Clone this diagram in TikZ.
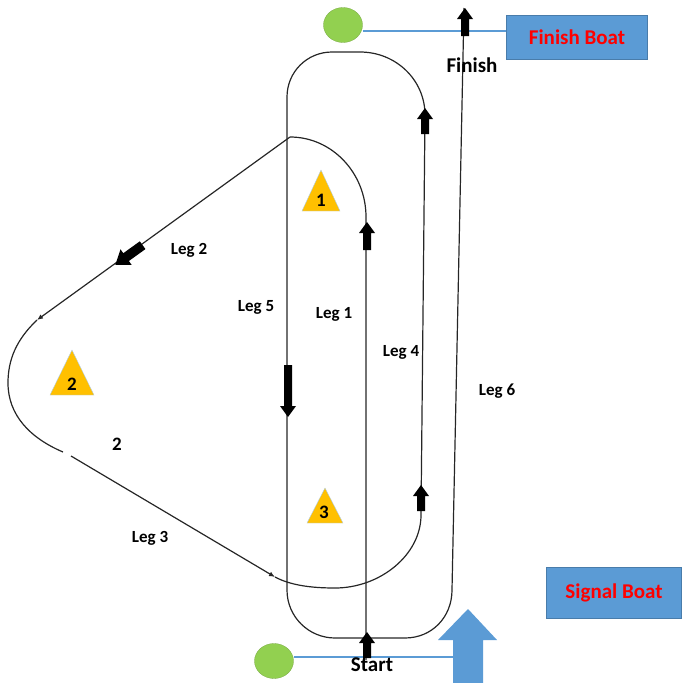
\documentclass[tikz,border=0pt]{standalone}
\usepackage{fontspec}
\setmainfont{Carlito}
\usetikzlibrary{arrows.meta,shapes.geometric}

\definecolor{buoygreen}{HTML}{92D050}
\definecolor{boatblue}{HTML}{5B9BD5}
\definecolor{markorange}{HTML}{FFC000}
\definecolor{boatred}{HTML}{FF0000}

\tikzset{
  course/.style={draw=black!85, line width=1.2pt},
  pinline/.style={draw=boatblue, line width=1.2pt},
  pinbuoy/.style={ellipse, fill=buoygreen, draw=buoygreen!80!black, line width=0.3pt, inner sep=0pt, minimum width=39pt, minimum height=35pt},
  markbuoy/.style={fill=markorange, draw=boatblue!50, line width=0.4pt},
  marknum/.style={font=\fontsize{19}{20}\selectfont\bfseries},
  leglabel/.style={font=\fontsize{17}{19}\selectfont\bfseries},
  biglabel/.style={font=\fontsize{21}{24}\selectfont\bfseries},
  boatbox/.style={fill=boatblue, draw=boatblue!80!black, line width=0.3pt, text=boatred, font=\fontsize{21}{24}\selectfont\bfseries},
  pics/legarrow/.style={code={
    \fill[black] (0,-#1) -- (8,{-#1+11}) -- (4,{-#1+11}) -- (4,#1) -- (-4,#1) -- (-4,{-#1+11}) -- (-8,{-#1+11}) -- cycle;
  }},
  pics/legarrow/.default=14
}

\begin{document}
\begin{tikzpicture}[x=1pt, y=-1pt]
    \useasboundingbox (0,0) rectangle (681,683);

    % Points of the course
    \coordinate (S) at (366,660);
    \coordinate (A1) at (366,217);
    \coordinate (M1) at (290,137);
    \coordinate (A2) at (37,320);
    \coordinate (A3) at (63,452);
    \coordinate (B3) at (71,456);
    \coordinate (C3) at (275,577);
    \coordinate (F) at (464,8);
    \coordinate (finishrow) at (0,31);
    \coordinate (startrow) at (0,657);
    \coordinate (arrowleft) at (453,657);

    % Boats and pins
    \node[boatbox, minimum width=141pt, minimum height=44pt] (finishboat) at (577,37) {Finish Boat};
    \node[boatbox, minimum width=135pt, minimum height=51pt] (signalboat) at (614,593) {Signal Boat};
    \node[pinbuoy] (finishpin) at (343,25) {};
    \node[pinbuoy] (startpin) at (274,661) {};

    % Finish line and start line
    \draw[pinline] (finishpin.east |- finishrow) -- (finishboat.west |- finishrow);
    \draw[pinline] (startpin.east |- startrow) -- (arrowleft);

    % Wind arrow
    \fill[boatblue] (468,609) -- (497,640) -- (483,640) -- (483,683) -- (453,683) -- (453,640) -- (438,640) -- cycle;

    % Leg 1 and rounding mark 1
    \draw[course] (S) -- (A1) .. controls (366,173) and (332,137) .. (M1);

    % Leg 2 and rounding mark 2
    \draw[course, -{Latex[length=6pt,width=5pt]}] (M1) -- (A2);
    \draw[course] (A2) .. controls (16,340) and (8,360) .. (8,383) .. controls (8,415) and (30,438) .. (A3);

    % Leg 3
    \draw[course, -{Latex[length=6pt,width=5pt]}] (B3) -- (C3);

    % Round mark 3, legs 4, 5 and 6
    \draw[course] (C3) .. controls (290,585) and (310,588) .. (335,588)
        .. controls (380,588) and (421,555) .. (421,515) -- (425,115)
        .. controls (425,80) and (396,52) .. (360,52) -- (332,52)
        .. controls (307,52) and (287,72) .. (287,97) -- (287,590)
        .. controls (287,617) and (309,638) .. (335,638) -- (405,638)
        .. controls (432,638) and (452,617) .. (452,590) -- (F);

    % Direction arrows
    \pic at (367,645) {legarrow=13};
    \pic at (367,236) {legarrow=14};
    \pic[rotate=125.7, scale=1.2] at (129,255) {legarrow=14};
    \pic[rotate=180] at (288,391) {legarrow=26};
    \pic at (421,498) {legarrow=13};
    \pic at (425,121) {legarrow=13};
    \pic at (465,22) {legarrow=14};

    % Marks
    \filldraw[markbuoy] (321,170) -- (340,211) -- (302,211) -- cycle;
    \filldraw[markbuoy] (72,350) -- (94,395) -- (50,395) -- cycle;
    \filldraw[markbuoy] (325,488) -- (343,523) -- (307,523) -- cycle;
    \node[marknum] (mark1) at (321,200) {1};
    \node[marknum] (mark2) at (72,384) {2};
    \node[marknum] (mark3) at (324,512) {3};

    % Labels
    \node[leglabel] (leg1) at (334,314) {Leg 1};
    \node[leglabel] (leg2) at (189,250) {Leg 2};
    \node[leglabel] (leg3) at (150,538) {Leg 3};
    \node[leglabel] (leg4) at (401,352) {Leg 4};
    \node[leglabel] (leg5) at (256,307) {Leg 5};
    \node[leglabel] (leg6) at (497,391) {Leg 6};
    \node[marknum] (round2) at (117,444) {2};
    \node[biglabel] (finish) at (472,65) {Finish};
    \node[biglabel] (start) at (372,665) {Start};
\end{tikzpicture}
\end{document}
